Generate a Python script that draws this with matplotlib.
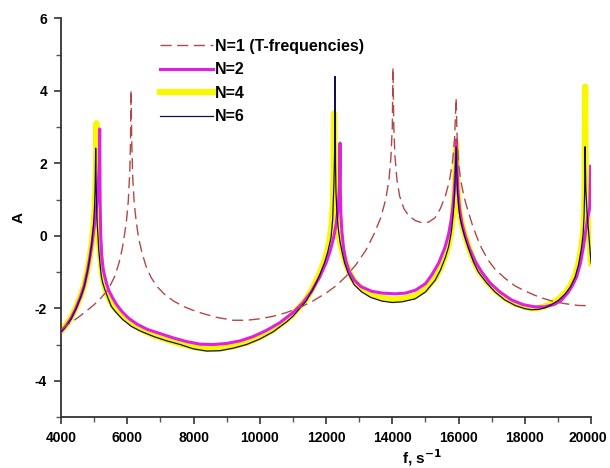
import matplotlib
matplotlib.use("Agg")
import matplotlib.pyplot as plt
from matplotlib.ticker import MultipleLocator
import matplotlib.transforms as mtransforms

plt.rcParams['font.family'] = ['Liberation Sans', 'DejaVu Sans']
plt.rcParams['font.weight'] = 'bold'
plt.rcParams['axes.unicode_minus'] = False

# ---- data ----
f1 = [4000, 4200, 4400, 4563, 4800, 5000, 5200, 5419, 5621, 5750, 5850, 5923, 5980,
      6030, 6075, 6098, 6113, 6135, 6165, 6210, 6270, 6340, 6440, 6560, 6720, 6900,
      7130, 7400, 7700, 8000, 8300, 8700, 9200, 9600, 10000, 10400, 10800, 11200,
      11600, 12000, 12300, 12600, 12900, 13200, 13450, 13650, 13800, 13900, 13960,
      14000, 14020, 14045, 14080, 14140, 14220, 14350, 14500, 14700, 14900, 15100,
      15290, 15450, 15600, 15720, 15820, 15880, 15925, 15960, 16000, 16070, 16160,
      16250, 16400, 16550, 16700, 16900, 17100, 17400, 17700, 18000, 18300, 18600,
      18900, 19200, 19600, 20000]
a1 = [-2.6, -2.45, -2.33, -2.22, -2.05, -1.9, -1.72, -1.49, -1.12, -0.75, -0.35, 0.07, 0.45,
      0.95, 1.75, 2.6, 4.03, 2.6, 1.6, 0.9, 0.4, -0.05, -0.45, -0.82, -1.15, -1.4,
      -1.62, -1.8, -1.95, -2.06, -2.15, -2.25, -2.33, -2.33, -2.29, -2.22, -2.12, -1.98,
      -1.8, -1.58, -1.38, -1.12, -0.8, -0.4, 0.05, 0.5, 1.0, 1.55, 2.2,
      3.0, 4.65, 3.0, 2.2, 1.55, 1.1, 0.75, 0.55, 0.42, 0.36, 0.38,
      0.5, 0.75, 1.1, 1.5, 2.05, 2.7, 3.8, 2.6, 2.0, 1.5, 1.1,
      0.8, 0.35, -0.03, -0.35, -0.68, -0.92, -1.17, -1.38, -1.52, -1.64, -1.74,
      -1.82, -1.87, -1.92, -1.93]

f2 = [4000, 4150, 4300, 4450, 4600, 4700, 4800, 4870, 4930, 4980, 5040, 5090, 5130,
      5155, 5168, 5180, 5200, 5228, 5270, 5320, 5380, 5450, 5550, 5680, 5850, 6050,
      6300, 6600, 7000, 7400, 7800, 8200, 8600, 9000, 9400, 9800, 10200, 10600, 11000,
      11300, 11550, 11800, 12000, 12130, 12230, 12310, 12370, 12405, 12423, 12432,
      12450, 12480, 12530, 12600, 12700, 12850, 13050, 13379, 13700, 14083, 14400,
      14700, 15000, 15190, 15400, 15592, 15700, 15780, 15840, 15890, 15920, 15935,
      15955, 15985, 16030, 16100, 16200, 16330, 16500, 16700, 16950, 17250, 17600,
      17950, 18300, 18600, 18900, 19100, 19300, 19450, 19567, 19680, 19770, 19840,
      19900, 19960, 19985]
a2 = [-2.65, -2.48, -2.28, -2.0, -1.66, -1.38, -0.97, -0.6, -0.25, 0.1, 0.5, 0.95, 1.5,
      2.0, 2.95, 1.0, 0.0, -0.55, -0.9, -1.12, -1.33, -1.52, -1.7, -1.9, -2.1, -2.28,
      -2.44, -2.58, -2.7, -2.82, -2.92, -2.99, -3.0, -2.97, -2.9, -2.78, -2.61, -2.4, -2.12,
      -1.85, -1.55, -1.15, -0.75, -0.4, -0.05, 0.35, 0.8, 1.4, 2.56, 1.2,
      0.55, 0.1, -0.35, -0.7, -0.98, -1.22, -1.4, -1.53, -1.58, -1.6, -1.58,
      -1.5, -1.32, -1.08, -0.75, -0.31, 0.05, 0.45, 0.9, 1.5, 2.05, 2.65,
      1.8, 1.2, 0.75, 0.35, 0.0, -0.35, -0.7, -1.0, -1.3, -1.55, -1.77,
      -1.9, -1.96, -1.96, -1.89, -1.78, -1.57, -1.35, -1.12, -0.75, -0.3, 0.15,
      0.5, 0.78, 1.92]

f4 = [4000, 4150, 4300, 4450, 4600, 4700, 4800, 4870, 4930, 4980, 5015, 5040, 5058,
      5067, 5080, 5095, 5115, 5140, 5180, 5230, 5280, 5350, 5440, 5550, 5700, 5900,
      6150, 6450, 6800, 7200, 7600, 8000, 8400, 8800, 9200, 9600, 10000, 10400, 10800,
      11000, 11400, 11600, 11800, 11950, 12050, 12120, 12170, 12205, 12228, 12242,
      12260, 12285, 12320, 12370, 12430, 12500, 12580, 12700, 12870, 13100, 13400,
      13700, 14000, 14300, 14700, 15000, 15290, 15450, 15600, 15700, 15780, 15840,
      15880, 15905, 15925, 15945, 15970, 16010, 16045, 16120, 16196, 16300, 16450,
      16598, 16850, 17102, 17400, 17706, 18000, 18208, 18400, 18600, 18800, 19013,
      19200, 19366, 19517, 19620, 19700, 19760, 19790, 19805, 19819, 19835, 19880,
      19920, 19960, 20000]
a4 = [-2.62, -2.46, -2.26, -1.98, -1.64, -1.36, -0.95, -0.58, -0.2, 0.25, 0.7, 1.3, 2.0,
      3.11, 1.6, 0.85, 0.35, -0.05, -0.5, -0.95, -1.25, -1.5, -1.72, -1.9, -2.07, -2.25,
      -2.43, -2.6, -2.75, -2.87, -2.98, -3.07, -3.12, -3.11, -3.05, -2.95, -2.8, -2.6, -2.33,
      -2.17, -1.75, -1.43, -1.05, -0.7, -0.38, -0.05, 0.35, 0.85, 1.6, 3.38,
      1.8, 1.0, 0.45, 0.1, -0.2, -0.45, -0.72, -1.0, -1.28, -1.48, -1.63,
      -1.72, -1.76, -1.74, -1.66, -1.48, -1.17, -0.9, -0.55, -0.25, 0.15, 0.65,
      1.25, 1.85, 2.56, 1.85, 1.25, 0.8, 0.55, 0.25, 0.0, -0.3, -0.67,
      -0.95, -1.25, -1.5, -1.72, -1.87, -1.96, -2.0, -1.99, -1.95, -1.87, -1.75,
      -1.59, -1.39, -1.1, -0.76, -0.36, 0.1, 0.65, 1.3, 4.12, 1.5, 0.65,
      0.2, -0.28, -0.75]

f6 = [4000, 4150, 4300, 4450, 4600, 4700, 4800, 4870, 4930, 4980, 5010, 5030, 5047,
      5060, 5075, 5095, 5117, 5140, 5180, 5217, 5260, 5330, 5420, 5520, 5650, 5850,
      6123, 6400, 6800, 7200, 7600, 8000, 8400, 8800, 9200, 9600, 10000, 10400, 10800,
      11000, 11400, 11600, 11800, 11950, 12050, 12150, 12200, 12240, 12260, 12272,
      12285, 12300, 12330, 12373, 12420, 12474, 12560, 12675, 12850, 13078, 13350,
      13681, 14000, 14300, 14687, 15000, 15290, 15450, 15600, 15700, 15780, 15840,
      15880, 15905, 15925, 15945, 15970, 16010, 16045, 16120, 16196, 16300, 16450,
      16598, 16850, 17102, 17400, 17706, 18000, 18208, 18400, 18600, 18800, 19013,
      19200, 19366, 19517, 19620, 19700, 19760, 19790, 19805, 19819, 19840, 19880,
      19920, 19960, 20000]
a6 = [-2.65, -2.5, -2.3, -2.02, -1.68, -1.4, -0.98, -0.6, -0.2, 0.3, 0.75, 1.3, 2.42,
      1.5, 0.8, 0.3, -0.02, -0.4, -0.8, -1.12, -1.3, -1.5, -1.72, -1.95, -2.1, -2.3,
      -2.5, -2.63, -2.78, -2.9, -3.0, -3.12, -3.18, -3.17, -3.1, -3.0, -2.85, -2.65, -2.38,
      -2.22, -1.8, -1.48, -1.1, -0.75, -0.45, -0.05, 0.45, 1.5, 2.3, 4.4,
      2.0, 1.2, 0.6, 0.17, -0.15, -0.4, -0.75, -1.05, -1.35, -1.55, -1.7,
      -1.8, -1.84, -1.82, -1.74, -1.55, -1.23, -0.95, -0.6, -0.3, 0.1, 0.6,
      1.2, 1.8, 2.46, 1.8, 1.2, 0.75, 0.5, 0.2, -0.05, -0.35, -0.72,
      -1.0, -1.3, -1.55, -1.77, -1.92, -2.01, -2.04, -2.03, -1.99, -1.9, -1.78,
      -1.62, -1.42, -1.14, -0.8, -0.4, 0.05, 0.6, 1.2, 2.46, 1.3, 0.6,
      0.17, -0.3, -0.75]

labels = ['N=1 (T-frequencies)', 'N=2', 'N=4', 'N=6']
x_ticks = [4000, 6000, 8000, 10000, 12000, 14000, 16000, 18000, 20000]
y_ticks = [-4, -2, 0, 2, 4, 6]

fig = plt.figure(figsize=(6.1, 4.68), dpi=100)
ax = fig.add_axes([0.1, 0.109, 0.869, 0.8515])

l4, = ax.plot(f4, a4, color='#F8F800', lw=4.5, zorder=2, solid_joinstyle='round')
l2, = ax.plot(f2, a2, color='#E020E0', lw=2.2, zorder=3)
l6, = ax.plot(f6, a6, color='#101050', lw=0.9, zorder=4)
l1, = ax.plot(f1, a1, color='#B04848', lw=1.0, dashes=(8, 4), zorder=5)

ax.set_xlim(4000, 20000)
ax.set_ylim(-5, 6)
ax.set_xticks(x_ticks)
ax.set_yticks(y_ticks)
ax.xaxis.set_minor_locator(MultipleLocator(1000))
ax.yaxis.set_minor_locator(MultipleLocator(1))
for s in ['top', 'right']:
    ax.spines[s].set_visible(False)
for s in ['left', 'bottom']:
    ax.spines[s].set_linewidth(1.3)
    ax.spines[s].set_color('#333333')
ax.tick_params(which='major', direction='out', length=5, width=1.2, color='#333333',
               labelsize=10, pad=5)
ax.tick_params(which='minor', direction='out', length=3.5, width=1.0, color='#555555')
for t in ax.get_xticklabels() + ax.get_yticklabels():
    t.set_fontweight('bold')
last = ax.get_xticklabels()[-1]
last.set_transform(last.get_transform() + mtransforms.ScaledTranslation(-2 / 72, 0, fig.dpi_scale_trans))

ax.set_ylabel('A', fontsize=11, fontweight='bold')
ax.yaxis.set_label_coords(-0.066, 0.5)
ax.set_xlabel('f, s$^{\\mathbf{-1}}$', fontsize=11, fontweight='bold')
ax.xaxis.set_label_coords(0.681, -0.077)

leg = fig.legend([l1, l2, l4, l6], labels, loc='upper left',
                 bbox_to_anchor=(0.262, 0.917), frameon=False, prop={'weight': 'bold', 'size': 11.5},
                 handlelength=3.3, handletextpad=0.15, labelspacing=0.53, borderpad=0,
                 borderaxespad=0)

fig.savefig('out.png', dpi=100)
